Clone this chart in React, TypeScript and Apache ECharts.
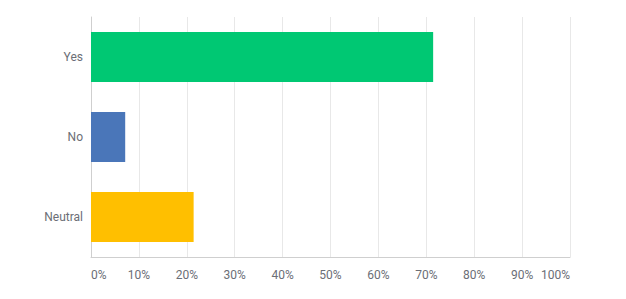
import React, { useEffect, useRef } from "react";
import * as echarts from "echarts";

const categories = ["Yes", "No", "Neutral"];
const values = [71.43, 7.14, 21.43];
const barColors = ["#00c873", "#4a76b9", "#ffbf00"];
const tickMax = 100;
const tickStep = 10;

export default function App() {
  const ref = useRef<HTMLDivElement>(null);
  useEffect(() => {
    const chart = echarts.init(ref.current!, null, { renderer: "svg" });
    chart.setOption({
      animation: false,
      grid: { left: 91, right: 56, top: 17, bottom: 42, containLabel: false },
      xAxis: {
        type: "value",
        min: 0,
        max: tickMax,
        interval: tickStep,
        axisLine: { show: true, lineStyle: { color: "#cfcfcf", width: 1 } },
        axisTick: { show: false },
        splitLine: { show: true, lineStyle: { color: "#e8e8e8", width: 1 } },
        axisLabel: {
          formatter: "{value}%",
          color: "#6b6e76",
          fontFamily: "Roboto",
          fontSize: 12,
          margin: 12,
          alignMinLabel: "left",
          alignMaxLabel: "right",
        },
      },
      yAxis: {
        type: "category",
        data: categories,
        inverse: true,
        axisLine: { show: true, lineStyle: { color: "#cfcfcf", width: 1 } },
        axisTick: { show: false },
        splitLine: { show: false },
        axisLabel: {
          color: "#6b6e76",
          fontFamily: "Roboto",
          fontSize: 12,
          margin: 8,
        },
      },
      series: [
        {
          type: "bar",
          data: values.map((v, i) => ({ value: v, itemStyle: { color: barColors[i] } })),
          barWidth: 50,
        },
      ],
    });
    return () => chart.dispose();
  }, []);
  return (
    <div
      ref={ref}
      style={{ position: "absolute", left: 0, top: 0, width: 626, height: 299, background: "#fff" }}
    />
  );
}
